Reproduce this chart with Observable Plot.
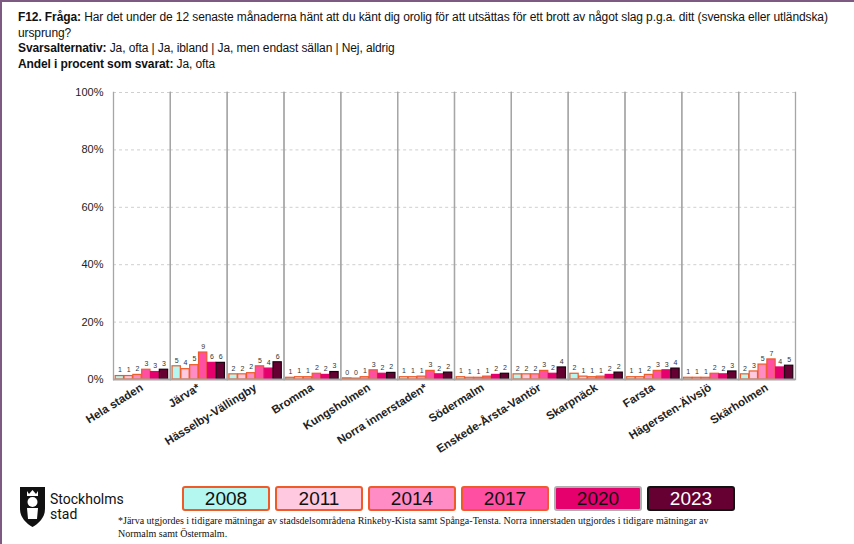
<!DOCTYPE html>
<html><head><meta charset="utf-8">
<script src="https://cdn.jsdelivr.net/npm/d3@7"></script>
<script src="https://cdn.jsdelivr.net/npm/@observablehq/plot@0.6"></script>
<style>
html,body{margin:0;padding:0;background:#fff;}
body{width:854px;height:544px;position:relative;overflow:hidden;font-family:"Liberation Sans",Arial,sans-serif;}
#border{position:absolute;left:0;top:0;width:854px;height:544px;border-top:2px solid #7d5a82;border-left:2px solid #7d5a82;box-sizing:border-box;}
#title{position:absolute;left:18px;top:10px;font-size:12px;line-height:15.5px;color:#111;white-space:nowrap;letter-spacing:-0.1px;}
#title b{font-weight:bold;}
#chart{position:absolute;left:0;top:80px;}
#legend .box{position:absolute;top:486px;width:88px;height:25px;box-sizing:border-box;border-radius:3px;border:2px solid #f05a28;text-align:center;font-family:"Liberation Sans Narrow","Arial Narrow",sans-serif;font-stretch:condensed;font-size:19px;line-height:21px;color:#111;}
#logo{position:absolute;left:18px;top:486px;}
#foot{position:absolute;left:118px;top:514px;font-family:"Liberation Serif","DejaVu Serif",serif;font-size:10px;line-height:13px;color:#111;width:630px;}
#chart svg [aria-label^="fx-axis"] text{font-weight:bold;font-size:11.5px;}
</style></head>
<body>
<div id="border"></div>
<div id="title"><b>F12. Fråga:</b> Har det under de 12 senaste månaderna hänt att du känt dig orolig för att utsättas för ett brott av något slag p.g.a. ditt (svenska eller utländska)<br>ursprung?<br><b>Svarsalternativ:</b> Ja, ofta | Ja, ibland | Ja, men endast sällan | Nej, aldrig<br><b>Andel i procent som svarat:</b> Ja, ofta</div>
<div id="chart"></div>
<div id="legend"></div>
<div id="logo">
<svg width="120" height="42" viewBox="0 0 120 42">
<path d="M2,1 L27,1 L27,23 C27,32 20,38 14.5,41 C9,38 2,32 2,23 Z" fill="#111"/>
<circle cx="14.5" cy="16" r="5" fill="#fff"/>
<path d="M9,22 L20,22 L19,33 L10,33 Z" fill="#fff"/>
<path d="M9,5 L11,8 L14.5,4 L18,8 L20,5 L20,10 L9,10 Z" fill="#fff"/>
<text x="32" y="18" font-family="Roboto,'Liberation Sans',sans-serif" font-size="14" fill="#111">Stockholms</text>
<text x="32" y="33" font-family="Roboto,'Liberation Sans',sans-serif" font-size="14" fill="#111">stad</text>
</svg>
</div>
<div id="foot">*Järva utgjordes i tidigare mätningar av stadsdelsområdena Rinkeby-Kista samt Spånga-Tensta. Norra innerstaden utgjordes i tidigare mätningar av Normalm samt Östermalm.</div>
<script>
const districts = ["Hela staden","Järva*","Hässelby-Vällingby","Bromma","Kungsholmen","Norra innerstaden*","Södermalm","Enskede-Årsta-Vantör","Skarpnäck","Farsta","Hägersten-Älvsjö","Skärholmen"];
const years = ["2008","2011","2014","2017","2020","2023"];
const v2008 = [1.2,4.6,1.8,0.6,0.4,0.8,0.8,1.8,2.0,0.8,0.6,1.8];
const v2011 = [1.2,3.6,1.8,0.8,0.3,0.8,0.6,1.8,1.0,0.8,0.6,2.8];
const v2014 = [1.6,5.0,2.2,0.8,0.8,1.0,0.6,1.8,0.8,1.6,0.6,5.2];
const v2017 = [3.4,9.4,4.6,2.0,3.2,3.0,1.0,3.0,1.0,3.0,2.0,7.0];
const v2020 = [2.6,5.8,3.8,1.6,2.0,1.8,1.6,2.0,1.6,3.2,1.8,4.2];
const v2023 = [3.4,5.8,6.0,2.6,2.3,2.4,2.0,4.2,2.4,3.8,2.8,4.8];
const labels2008 = [1,5,2,1,0,1,1,2,2,1,1,2];
const labels2011 = [1,4,2,1,0,1,1,2,1,1,1,3];
const labels2014 = [2,5,2,1,1,1,1,2,1,2,1,5];
const labels2017 = [3,9,5,2,3,3,1,3,1,3,2,7];
const labels2020 = [3,6,4,2,2,2,2,2,2,3,2,4];
const labels2023 = [3,6,6,3,2,2,2,4,2,4,3,5];
const yTicks = [0,20,40,60,80,100];

const fills = {"2008":"#b3f7f0","2011":"#ffc9e0","2014":"#ff8cc4","2017":"#ff4fa3","2020":"#e5006d","2023":"#660033"};
const strokes = {"2008":"#f05a28","2011":"#f05a28","2014":"#f05a28","2017":"#f05a28","2020":"#e5006d","2023":"#1a0010"};
const legendStroke = {"2008":"#f05a28","2011":"#f05a28","2014":"#f05a28","2017":"#f05a28","2020":"#b0b0b0","2023":"#111"};

const series = [v2008,v2011,v2014,v2017,v2020,v2023];
const labs = [labels2008,labels2011,labels2014,labels2017,labels2020,labels2023];
const data = [];
districts.forEach((d,i)=>years.forEach((y,j)=>data.push({district:d,year:y,value:series[j][i],label:labs[j][i]})));

const chart = Plot.plot({
  width: 854, height: 400,
  marginLeft: 113, marginRight: 59, marginTop: 12, marginBottom: 101,
  style: {fontFamily: "'Liberation Sans', Arial, sans-serif", fontSize: "11px", color: "#222", background: "transparent"},
  fx: {domain: districts, padding: 0, round: false, label: null, tickRotate: -32, tickSize: 0, tickPadding: 7, axis: "bottom"},
  x: {domain: years, paddingInner: 0.06, paddingOuter: 0.25, round: false, axis: null},
  y: {domain: [0,100], ticks: yTicks, tickFormat: d => d + "%", label: null, tickSize: 0, tickPadding: 10},
  color: {type: "identity"},
  marks: [
    Plot.ruleY(yTicks.filter(t => t > 0), {stroke: "#cfcfcf", strokeDasharray: "3,3"}),
    Plot.frame({anchor: "left", stroke: "#a6a6a6", strokeWidth: 1.3}),
    Plot.frame({anchor: "right", stroke: "#a6a6a6", strokeWidth: 1.3}),
    Plot.barY(data, {fx: "district", x: "year", y: "value", fill: d => fills[d.year], stroke: d => strokes[d.year], strokeWidth: 1.2}),
    Plot.text(data, {fx: "district", x: "year", y: "value", text: "label", dy: -6, fontSize: 7, fill: "#333"}),
    Plot.ruleY([0], {stroke: "#a6a6a6", strokeWidth: 2})
  ]
});
document.getElementById("chart").appendChild(chart);

const leg = document.getElementById("legend");
years.forEach((y,i)=>{
  const b = document.createElement("div");
  b.className = "box";
  b.style.left = (182 + 93*i) + "px";
  b.style.background = fills[y];
  b.style.borderColor = legendStroke[y];
  if (y === "2023") b.style.color = "#fff";
  b.textContent = y;
  leg.appendChild(b);
});
</script>
</body></html>
